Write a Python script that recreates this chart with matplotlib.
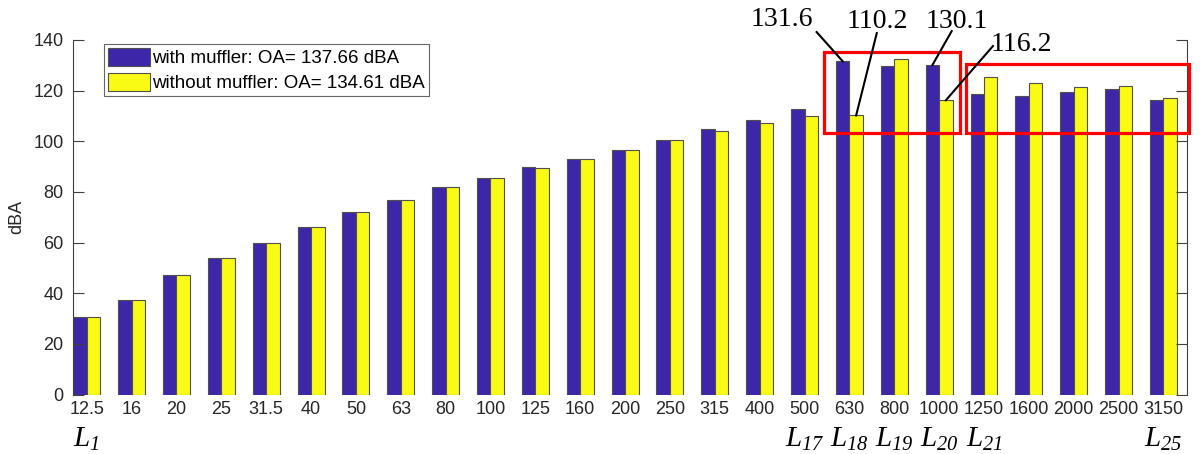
import numpy as np
import matplotlib
matplotlib.use("Agg")
import matplotlib.pyplot as plt
from matplotlib.patches import Rectangle
from matplotlib.transforms import blended_transform_factory

# 1/3-octave band centre frequencies (Hz) and A-weighted levels (dBA)
bands = ["12.5", "16", "20", "25", "31.5", "40", "50", "63", "80", "100",
         "125", "160", "200", "250", "315", "400", "500", "630", "800", "1000",
         "1250", "1600", "2000", "2500", "3150"]
with_muffler = [30.5, 37.5, 47.0, 54.0, 60.0, 66.2, 72.2, 76.9, 81.8, 85.6,
                89.7, 93.1, 96.4, 100.4, 104.7, 108.3, 112.7, 131.6, 129.8, 130.1,
                118.6, 118.0, 119.6, 120.6, 116.3]
without_muffler = [30.5, 37.5, 47.0, 54.0, 60.0, 66.2, 72.2, 76.9, 81.8, 85.6,
                   89.4, 93.1, 96.4, 100.4, 104.1, 107.2, 110.0, 110.2, 132.6, 116.2,
                   125.5, 123.0, 121.6, 122.0, 117.0]
legend_labels = ["with muffler: OA= 137.66 dBA", "without muffler: OA= 134.61 dBA"]

# band labels L_n under selected bands (index into bands)
band_marks = {0: "1", 16: "17", 17: "18", 18: "19", 19: "20", 20: "21", 24: "25"}

# callouts: (band index, series, text)
callouts = [(17, "with", "131.6"), (17, "without", "110.2"),
            (19, "with", "130.1"), (19, "without", "116.2")]

BLUE = "#3E26A8"
YELLOW = "#F9FB15"

plt.rcParams["font.family"] = ["Liberation Sans", "DejaVu Sans"]
plt.rcParams["mathtext.fontset"] = "custom"
plt.rcParams["mathtext.it"] = "Liberation Serif:italic"
plt.rcParams["mathtext.rm"] = "Liberation Serif:italic"

fig = plt.figure(figsize=(12.03, 4.54), dpi=100)
ax = fig.add_axes([0.0609, 0.131, 0.926, 0.781])

x = np.arange(len(bands))
w = 0.3
ax.bar(x - w / 2, with_muffler, w, color=BLUE, edgecolor="#505050", lw=0.8,
       label=legend_labels[0])
ax.bar(x + w / 2, without_muffler, w, color=YELLOW, edgecolor="#505050", lw=0.8,
       label=legend_labels[1])

ax.set_xlim(-0.3, 24.53)
ax.set_ylim(0, 140)
ax.set_yticks(range(0, 141, 20))
ax.set_xticks(x)
ax.set_xticklabels(bands, fontsize=13, color="#262626")
ax.tick_params(axis="x", length=0, pad=5)
ax.tick_params(axis="y", direction="in", length=8, width=0.8, color="#404040",
               labelsize=13, labelcolor="#262626", pad=7, right=True)
for s in ["top", "bottom"]:
    ax.spines[s].set_visible(False)
for s in ["left", "right"]:
    ax.spines[s].set_color("#404040")
    ax.spines[s].set_linewidth(0.8)
ax.set_ylabel("dBA", fontsize=13, color="#262626", labelpad=6)

leg = ax.legend(loc="upper left", bbox_to_anchor=(0.0278, 0.988), fontsize=13.5,
                frameon=True, fancybox=False, edgecolor="#404040",
                handlelength=2.25, handleheight=1.1, handletextpad=0.1,
                labelspacing=0.3, borderpad=0.2, borderaxespad=0)
leg.get_frame().set_linewidth(0.8)

# L_n band labels under the tick labels
trans = blended_transform_factory(ax.transData, ax.transAxes)
for i, n in band_marks.items():
    ax.text(x[i], -0.085, r"$L_{%s}$" % n, transform=trans, ha="center", va="top",
            fontsize=21)

# red boxes around the highlighted bands
box_kw = dict(fill=False, edgecolor="red", lw=2.3, clip_on=False, zorder=5)
ax.add_patch(Rectangle((16.44, 103.1), 19.47 - 16.44, 135.4 - 103.1, **box_kw))
ax.add_patch(Rectangle((19.59, 103.1), 24.57 - 19.59, 130.6 - 103.1, **box_kw))

# value callouts with leader lines
text_pos = {"131.6": (15.49, 148.2), "110.2": (17.63, 147.4),
            "130.1": (19.39, 147.4), "116.2": (20.84, 138.4)}
line_start = {"131.6": (16.27, 143.1), "110.2": (17.61, 142.7),
              "130.1": (19.28, 143.5), "116.2": (20.20, 137.6)}
for i, series, txt in callouts:
    if series == "with":
        bx, by = x[i] - w / 2, with_muffler[i]
    else:
        bx, by = x[i] + w / 2, without_muffler[i]
    sx, sy = line_start[txt]
    ax.plot([sx, bx], [sy, by], color="black", lw=1.5, clip_on=False, zorder=6)
    tx, ty = text_pos[txt]
    ax.text(tx, ty, txt, ha="center", va="center", fontsize=20,
            family="Liberation Serif", clip_on=False)

fig.savefig("out.png", dpi=100)
